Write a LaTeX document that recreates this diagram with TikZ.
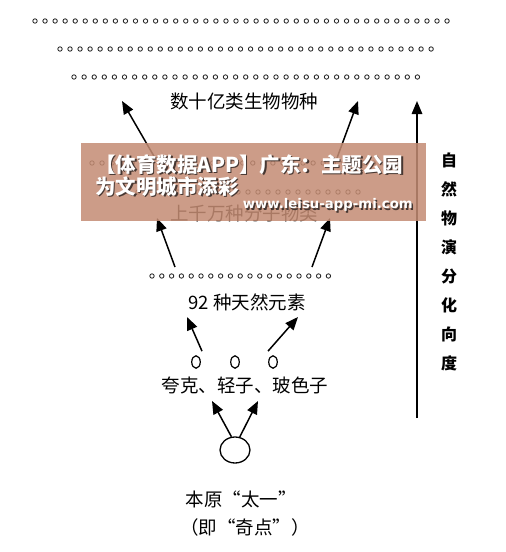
\documentclass[tikz,border=0pt]{standalone}
\usepackage{fontspec}
\usepackage{xcolor}
\usepackage{tikz}
\usetikzlibrary{arrows.meta, shapes.geometric, positioning}
\newfontfamily\cjk{Noto Sans CJK SC}
\newfontfamily\webfont{DejaVu Sans}
\definecolor{bannerbrown}{RGB}{196,140,116}
\definecolor{shadowgray}{RGB}{70,55,50}

\begin{document}
\begin{tikzpicture}[x=1pt, y=-1pt,
    dotc/.style={line width=0.85pt, black!85},
    uparrow/.style={line width=1.5pt, -{Triangle[length=13pt, width=10.5pt]}},
    levellabel/.style={font=\cjk\fontsize{18.5}{20}\selectfont, inner sep=0pt},
    vlabel/.style={font=\cjk\bfseries\fontsize{16}{17}\selectfont, inner sep=0pt},
    quark/.style={draw, ellipse, line width=1.2pt, minimum width=8.5pt, minimum height=12.5pt, inner sep=0pt},
    bannertext/.style={font=\cjk\bfseries\fontsize{20.5}{22}\selectfont, inner sep=0pt, anchor=west}]

        \useasboundingbox (0,0) rectangle (506,552);

        % Dotted rows
        \foreach \i in {0,...,41} \draw[dotc] (35+\i*10.05,21) circle (2.2);
        \foreach \i in {0,...,37} \draw[dotc] (60+\i*10.03,49) circle (2.2);
        \foreach \i in {0,...,34} \draw[dotc] (74+\i*10.1,77) circle (2.2);
        \foreach \i in {0,...,30} \draw[dotc] (92+\i*10.05,163) circle (2.2);
        \foreach \i in {0,...,23} \draw[dotc] (128+\i*10,192) circle (2.2);
        \foreach \i in {0,...,18} \draw[dotc] (152+\i*9.8,276) circle (2.2);

        % Level labels
        \node[levellabel] (species)   at (244,101) {数十亿类生物物种};
        \node[levellabel] (molecules) at (244,213) {上千万种分子物类};
        \node[levellabel] (elements)  at (247,302) {92 种天然元素};
        \node[levellabel] (particles) at (245,385) {夸克、轻子、玻色子};
        \node[levellabel] (origin)    at (241,499) {本原“太一”};
        \node[levellabel] (singular)  at (245,527) {（即“奇点”）};

        % Quarks and the seed
        \node[quark] (q1) at (196,362) {};
        \node[quark] (q2) at (235,362) {};
        \node[quark] (q3) at (273,362) {};
        \node[draw, ellipse, line width=1.3pt, minimum width=30pt, minimum height=26pt] (seed) at (235,450) {};

        % Arrow ends
        \coordinate (spL) at (122,101);
        \coordinate (spR) at (358,101);
        \coordinate (mlL) at (157,218);
        \coordinate (mlR) at (330,218);
        \coordinate (elL) at (187,317);
        \coordinate (elR) at (298,317);
        \coordinate (ptL) at (212,401);
        \coordinate (ptR) at (258,401);

        % Upward arrows
        \draw[uparrow] (155,158) -- (spL);
        \draw[uparrow] (337,158) -- (spR);
        \draw[uparrow] (175,267) -- (mlL);
        \draw[uparrow] (312,267) -- (mlR);
        \draw[uparrow] ([shift={(6,-4)}]q1.north) -- (elL);
        \draw[uparrow] ([shift={(-5,-4)}]q3.north) -- (elR);
        \draw[uparrow] (seed.105) -- (ptL);
        \draw[uparrow] (seed.70) -- (ptR);

        % Direction axis
        \coordinate (axisbot) at (417,418);
        \coordinate (axistop) at (417,101);
        \draw[uparrow] (axisbot) -- (axistop);
        \foreach \ch [count=\i from 0] in {自,然,物,演,分,化,向,度}
            \node[vlabel] (v\i) at (449,160+\i*29) {\ch};

        % Banner overlay
        \fill[bannerbrown, fill opacity=0.86] (81,143) rectangle (426,221);
        \node[bannertext, shadowgray] at (96.5,166) {【体育数据APP】广东：主题公园};
        \node[bannertext, white] (head1) at (95,164.5) {【体育数据APP】广东：主题公园};
        \node[bannertext, shadowgray] at (96.5,188) {为文明城市添彩};
        \node[bannertext, white] (head2) at (95,186.5) {为文明城市添彩};
        \node[font=\webfont\bfseries\fontsize{13.3}{14}\selectfont, inner sep=0pt, anchor=east, shadowgray] at (414.5,206.5) {www.leisu-app-mi.com};
        \node[font=\webfont\bfseries\fontsize{13.3}{14}\selectfont, inner sep=0pt, anchor=east, white] (site) at (413,205) {www.leisu-app-mi.com};
\end{tikzpicture}
\end{document}
